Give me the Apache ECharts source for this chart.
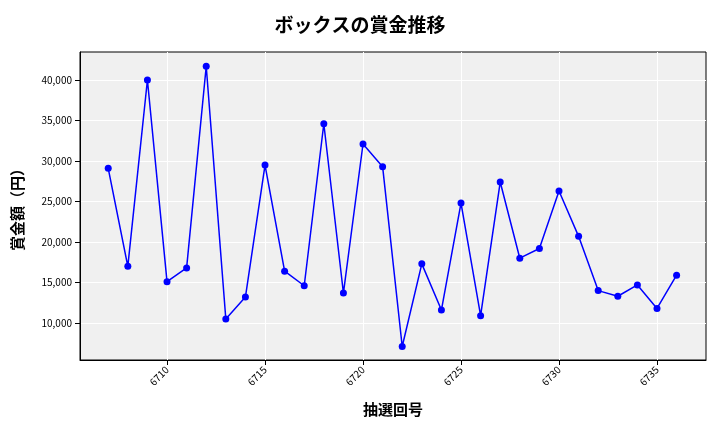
<!DOCTYPE html>
<html><head><meta charset="utf-8">
<script src="https://cdn.jsdelivr.net/npm/echarts@6/dist/echarts.min.js"></script>
<style>html,body{margin:0;background:#fff}#c{width:720px;height:432px}</style>
</head><body><div id="c"></div>
<script>
// ── Box prize history ──
const draws = [6707,6708,6709,6710,6711,6712,6713,6714,6715,6716,6717,6718,6719,6720,6721,
  6722,6723,6724,6725,6726,6727,6728,6729,6730,6731,6732,6733,6734,6735,6736];
const prizes = [29100,17000,40000,15100,16800,41700,10500,13200,29500,16400,14600,34600,13700,32100,29300,
  7100,17300,11600,24800,10900,27400,18000,19200,26300,20700,14000,13300,14700,11800,15900];
const xTicks = [6710,6715,6720,6725,6730,6735];
const yTicks = [10000,15000,20000,25000,30000,35000,40000];

const font = '"Noto Sans CJK JP", sans-serif';
const chart = echarts.init(document.getElementById('c'));
chart.setOption({
  animation: false,
  title: { text: 'ボックスの賞金推移', left: 'center', top: 10,
    textStyle: { fontFamily: font, fontSize: 19, fontWeight: 'bold', color: '#000' } },
  grid: { left: 80, right: 14, top: 52, bottom: 72, backgroundColor: '#f0f0f0', show: true,
    borderWidth: 1, borderColor: '#000' },
  xAxis: {
    type: 'value', min: 6705.56, max: 6737.5,
    name: '抽選回号', nameLocation: 'middle', nameGap: 42,
    nameTextStyle: { fontFamily: font, fontSize: 15, fontWeight: 'bold', color: '#000' },
    axisLine: { show: true, lineStyle: { color: '#000' } },
    axisTick: { show: true, customValues: xTicks, lineStyle: { color: '#000' } },
    axisLabel: { customValues: xTicks, rotate: 45, fontSize: 10, color: '#000', fontFamily: font,
      formatter: v => String(v) },
    splitLine: { show: true, lineStyle: { color: '#fff', width: 1 } },
  },
  yAxis: {
    type: 'value', min: 5432, max: 43457,
    name: '賞金額（円）', nameLocation: 'middle', nameGap: 55,
    nameTextStyle: { fontFamily: font, fontSize: 15, fontWeight: 'bold', color: '#000' },
    axisLine: { show: true, lineStyle: { color: '#000' } },
    axisTick: { show: true, customValues: yTicks, lineStyle: { color: '#000' } },
    axisLabel: { customValues: yTicks, fontSize: 10, color: '#000', fontFamily: font,
      formatter: v => v.toLocaleString('en-US') },
    splitLine: { show: true, lineStyle: { color: '#fff', width: 1 } },
  },
  series: [{
    type: 'line', data: draws.map((d, i) => [d, prizes[i]]),
    symbol: 'circle', symbolSize: 7,
    lineStyle: { color: '#0000ff', width: 1.5 }, itemStyle: { color: '#0000ff' },
  }],
});
</script></body></html>
